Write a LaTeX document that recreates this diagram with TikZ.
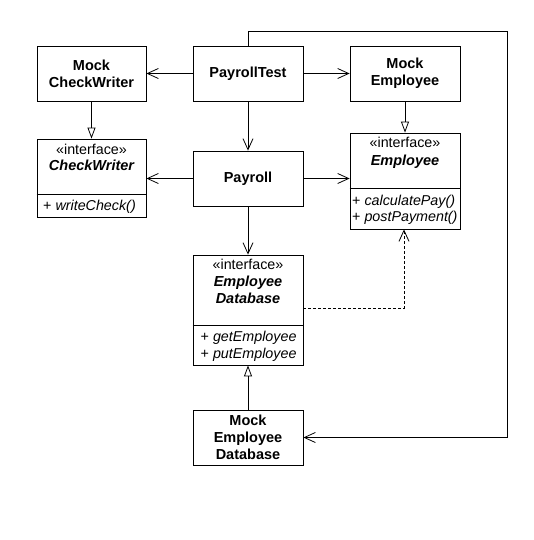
\documentclass[tikz,border=0pt]{standalone}
\usepackage{fontspec}
\setmainfont{Liberation Sans}
\usetikzlibrary{arrows.meta}
\begin{document}
\begin{tikzpicture}[x=1pt,y=-1pt,
  box/.style={draw, line width=0.8pt, inner sep=0pt, rectangle},
  lbl/.style={inner sep=0pt, font=\fontsize{14.3}{16.7}\selectfont},
  ttl/.style={inner sep=0pt, font=\fontsize{14.5}{16.7}\selectfont\bfseries, align=center},
  ititle/.style={inner sep=0pt, font=\fontsize{14.5}{16.7}\selectfont\bfseries\itshape},
  assoc/.style={draw, line width=0.8pt, -{Straight Barb[length=11pt,width=10pt]}},
  real/.style={draw, line width=0.8pt, -{Triangle[open,length=11pt,width=8pt]}},
  dep/.style={draw, line width=0.8pt, dash pattern=on 3pt off 2pt, -{Straight Barb[length=11pt,width=10pt]}},
  divider/.style={draw, line width=0.8pt},
]
\useasboundingbox (0,0) rectangle (534,540);

% plain boxes
\node[box, ttl, minimum width=109pt, minimum height=55pt] (mcw) at (91.5,73.5) {Mock\\CheckWriter};
\node[box, ttl, minimum width=110pt, minimum height=55pt] (pt) at (248,73.5) {PayrollTest};
\node[box, ttl, minimum width=110pt, minimum height=55pt] (me) at (405,73.5) {Mock\\Employee};
\node[box, ttl, minimum width=110pt, minimum height=55pt] (pay) at (248,178.5) {Payroll};
\node[box, ttl, minimum width=110pt, minimum height=55pt] (medb) at (248,437.5) {Mock\\Employee\\Database};

% interface CheckWriter
\node[box, minimum width=109pt, minimum height=78pt] (cw) at (91.5,178) {};
\coordinate (cwd) at (0,194);
\draw[divider] (cw.west |- cwd) -- (cw.east |- cwd);
\node[lbl, anchor=base] (cws) at (91.5,154) {«interface»};
\node[ititle, anchor=base] (cwn) at (91.5,170.7) {CheckWriter};
\node[lbl, anchor=base west] (cwm) at (43,210) {+ \textit{writeCheck()}};

% interface Employee
\node[box, minimum width=110pt, minimum height=96pt] (emp) at (405,181) {};
\coordinate (empd) at (0,188.5);
\draw[divider] (emp.west |- empd) -- (emp.east |- empd);
\node[lbl, anchor=base] (emps) at (405,148) {«interface»};
\node[ititle, anchor=base] (empn) at (405,165) {Employee};
\node[lbl, anchor=base west] (empm1) at (352,205) {+ \textit{calculatePay()}};
\node[lbl, anchor=base west] (empm2) at (352,221.5) {+ \textit{postPayment()}};

% interface EmployeeDatabase
\node[box, minimum width=110pt, minimum height=110pt] (edb) at (248,310) {};
\coordinate (edbd) at (0,325);
\draw[divider] (edb.west |- edbd) -- (edb.east |- edbd);
\node[lbl, anchor=base] (edbs) at (248,269) {«interface»};
\node[ititle, anchor=base] (edbn1) at (248,286.7) {Employee};
\node[ititle, anchor=base] (edbn2) at (248,303.3) {Database};
\node[lbl, anchor=base west] (edbm1) at (200.5,341.7) {+ \textit{getEmployee}};
\node[lbl, anchor=base west] (edbm2) at (200.5,358.3) {+ \textit{putEmployee}};

% associations
\draw[assoc] (pt.west) -- (mcw.east);
\draw[assoc] (pt.east) -- (me.west);
\draw[assoc] (pt.south) -- (pay.north);
\draw[assoc] (pay.west) -- (pay.west -| cw.east);
\draw[assoc] (pay.east) -- (pay.east -| emp.west);
\draw[assoc] (pay.south) -- (edb.north);

% realizations
\draw[real] (mcw.south) -- (cw.north);
\draw[real] (me.south) -- (emp.north);
\draw[real] (medb.north) -- (edb.south);

% dependency
\coordinate (dc) at (404,308);
\draw[dep] (edb.east |- dc) -- (dc) -- (dc |- emp.south);

% loop from PayrollTest to MockEmployeeDatabase
\coordinate (lc) at (507,31);
\draw[assoc] (pt.north) -- (pt.north |- lc) -- (lc) -- (lc |- medb.east) -- (medb.east);
\end{tikzpicture}
\end{document}
